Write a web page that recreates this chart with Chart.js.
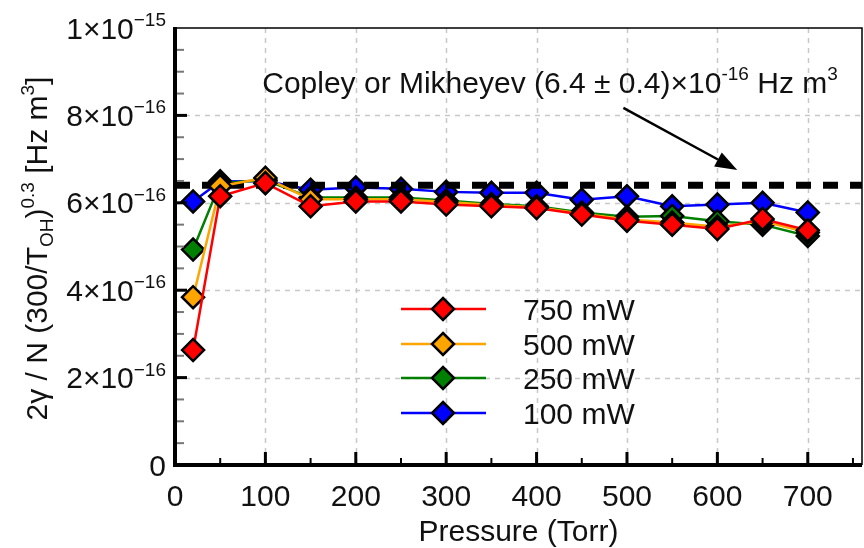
<!DOCTYPE html>
<html>
<head>
<meta charset="utf-8">
<script src="https://cdn.jsdelivr.net/npm/chart.js@4.4.0/dist/chart.umd.min.js"></script>
<style>
  html, body { margin: 0; padding: 0; background: #fff; }
  #wrap { width: 864px; height: 548px; position: relative; }
</style>
</head>
<body>
<div id="wrap"><canvas id="chart" width="864" height="548"></canvas></div>
<script>
// Pression en Torr
const pressures = [20, 50, 100, 150, 200, 250, 300, 350, 400, 450, 500, 550, 600, 650, 700];

// 2γ/N (300/T_OH)^0.3, en unités de 1e-16 Hz m^3
const series750 = [2.63, 6.15, 6.45, 5.92, 6.03, 6.03, 5.96, 5.92, 5.88, 5.73, 5.59, 5.50, 5.40, 5.63, 5.37];
const series500 = [3.84, 6.38, 6.57, 6.08, 6.08, 6.08, 6.02, 5.95, 5.90, 5.75, 5.62, 5.55, 5.45, 5.58, 5.32];
const series250 = [4.93, 6.45, 6.52, 6.12, 6.12, 6.12, 6.05, 5.97, 5.92, 5.78, 5.68, 5.70, 5.58, 5.50, 5.24];
const series100 = [6.03, 6.49, 6.50, 6.30, 6.35, 6.32, 6.25, 6.23, 6.23, 6.07, 6.15, 5.92, 5.96, 6.00, 5.78];

const seriesLabels = ['750 mW', '500 mW', '250 mW', '100 mW'];
const seriesColors = ['#ff0000', '#ffa500', '#008000', '#0000ff'];

// Valeur de la littérature (Copley / Mikheyev)
const literatureValue = 6.4;
const literatureRange = [0, 760];

const xRange = [0, 760];
const yRange = [0, 10];
const xTicks = [0, 100, 200, 300, 400, 500, 600, 700];
const xTickLabels = ['0', '100', '200', '300', '400', '500', '600', '700'];
const yTicks = [0, 2, 4, 6, 8, 10];
const yTickLabels = ['0', '2×10^{−16}', '4×10^{−16}', '6×10^{−16}', '8×10^{−16}', '1×10^{−15}'];

const xTitle = 'Pressure (Torr)';
const yTitle = '2γ / N (300/T_{OH})^{0.3} [Hz m^{3}]';
const noteText = 'Copley or Mikheyev (6.4 ± 0.4)×10^{-16} Hz m^{3}';
// flèche : départ et pointe en coordonnées de données
const arrowFrom = [496, 8.17];
const arrowTo = [622, 6.75];

const FONT = '"Liberation Sans", Arial, sans-serif';
const TXT = 30;

/**
 * Découpe une chaîne avec ^{...} et _{...} en morceaux
 */
function parseRich(str) {
  const parts = [];
  const re = /([\^_])\{([^}]*)\}/g;
  let last = 0, m;
  while ((m = re.exec(str))) {
    if (m.index > last) parts.push({ t: str.slice(last, m.index), k: 'n' });
    parts.push({ t: m[2], k: m[1] === '^' ? 'sup' : 'sub' });
    last = re.lastIndex;
  }
  if (last < str.length) parts.push({ t: str.slice(last), k: 'n' });
  return parts;
}

function partFont(k, size) {
  return (k === 'n' ? size : Math.round(size * 0.62)) + 'px ' + FONT;
}

function richWidth(ctx, parts, size) {
  let w = 0;
  parts.forEach(p => { ctx.font = partFont(p.k, size); w += ctx.measureText(p.t).width; });
  return w;
}

// y = ligne de base
function drawRich(ctx, str, x, y, size, align) {
  const parts = parseRich(str);
  const w = richWidth(ctx, parts, size);
  let cx = align === 'right' ? x - w : align === 'center' ? x - w / 2 : x;
  ctx.textBaseline = 'alphabetic';
  ctx.textAlign = 'left';
  parts.forEach(p => {
    ctx.font = partFont(p.k, size);
    let dy = 0;
    if (p.k === 'sup') dy = -size * 0.42;
    if (p.k === 'sub') dy = size * 0.2;
    ctx.fillText(p.t, cx, y + dy);
    cx += ctx.measureText(p.t).width;
  });
}

const decorations = {
  id: 'decorations',
  beforeDatasetsDraw(chart) {
    const { ctx, chartArea: a, scales: { x, y } } = chart;
    ctx.save();
    // grille pointillée
    ctx.strokeStyle = '#c8c8c8';
    ctx.lineWidth = 1.5;
    ctx.setLineDash([5, 5]);
    xTicks.forEach(v => {
      if (v === xRange[0]) return;
      const px = Math.round(x.getPixelForValue(v)) + 0.5;
      ctx.beginPath(); ctx.moveTo(px, a.top); ctx.lineTo(px, a.bottom); ctx.stroke();
    });
    yTicks.forEach(v => {
      if (v === yRange[0] || v === yRange[1]) return;
      const py = Math.round(y.getPixelForValue(v)) + 0.5;
      ctx.beginPath(); ctx.moveTo(a.left, py); ctx.lineTo(a.right, py); ctx.stroke();
    });
    ctx.restore();
  },
  afterDatasetsDraw(chart) {
    const { ctx, chartArea: a, scales: { x, y } } = chart;
    ctx.save();
    ctx.setLineDash([]);

    // cadre fin haut / droite
    ctx.strokeStyle = '#000';
    ctx.lineWidth = 1.5;
    ctx.beginPath();
    ctx.moveTo(a.left, a.top); ctx.lineTo(a.right, a.top); ctx.lineTo(a.right, a.bottom);
    ctx.stroke();

    // graduations x
    for (let v = 50; v < xRange[1]; v += 50) {
      const px = x.getPixelForValue(v);
      const major = v % 100 === 0;
      ctx.strokeStyle = '#000';
      ctx.lineWidth = major ? 3 : 2;
      ctx.beginPath(); ctx.moveTo(px, a.bottom); ctx.lineTo(px, a.bottom - (major ? 13 : 7)); ctx.stroke();
    }
    // graduations y
    for (let v = 0.5; v < yRange[1]; v += 0.5) {
      const py = y.getPixelForValue(v);
      const major = Math.abs(v % 2) < 1e-9;
      ctx.strokeStyle = major ? '#000' : '#777';
      ctx.lineWidth = major ? 3 : 2;
      ctx.beginPath(); ctx.moveTo(a.left, py); ctx.lineTo(a.left + (major ? 12 : 9), py); ctx.stroke();
    }

    // axes épais gauche / bas
    ctx.strokeStyle = '#000';
    ctx.lineWidth = 4;
    ctx.beginPath();
    ctx.moveTo(a.left, a.top - 1); ctx.lineTo(a.left, a.bottom); ctx.lineTo(a.right, a.bottom);
    ctx.stroke();

    ctx.fillStyle = '#111';
    // étiquettes x
    xTicks.forEach((v, i) => {
      drawRich(ctx, xTickLabels[i], x.getPixelForValue(v), 506, TXT, 'center');
    });
    // étiquettes y
    yTicks.forEach((v, i) => {
      drawRich(ctx, yTickLabels[i], 166, y.getPixelForValue(v) + 10.5, TXT, 'right');
    });

    // titres
    drawRich(ctx, xTitle, (a.left + a.right) / 2, 541, TXT, 'center');
    ctx.save();
    ctx.translate(47, (a.top + a.bottom) / 2 + 2);
    ctx.rotate(-Math.PI / 2);
    drawRich(ctx, yTitle, 0, 0, TXT, 'center');
    ctx.restore();

    // annotation
    drawRich(ctx, noteText, 550, 93, TXT, 'center');
    const x0 = x.getPixelForValue(arrowFrom[0]), y0 = y.getPixelForValue(arrowFrom[1]);
    const x1 = x.getPixelForValue(arrowTo[0]), y1 = y.getPixelForValue(arrowTo[1]);
    const ang = Math.atan2(y1 - y0, x1 - x0);
    const head = 22, hw = 8;
    ctx.strokeStyle = '#000';
    ctx.lineWidth = 2.5;
    ctx.beginPath(); ctx.moveTo(x0, y0);
    ctx.lineTo(x1 - Math.cos(ang) * head, y1 - Math.sin(ang) * head); ctx.stroke();
    ctx.fillStyle = '#000';
    ctx.beginPath();
    ctx.moveTo(x1, y1);
    ctx.lineTo(x1 - Math.cos(ang) * head - Math.sin(ang) * hw, y1 - Math.sin(ang) * head + Math.cos(ang) * hw);
    ctx.lineTo(x1 - Math.cos(ang) * head + Math.sin(ang) * hw, y1 - Math.sin(ang) * head - Math.cos(ang) * hw);
    ctx.closePath(); ctx.fill();

    // légende
    const rows = [309, 344, 378, 413];
    seriesLabels.forEach((label, i) => {
      const ry = rows[i];
      ctx.strokeStyle = seriesColors[i];
      ctx.lineWidth = 2.5;
      ctx.beginPath(); ctx.moveTo(401, ry); ctx.lineTo(486, ry); ctx.stroke();
      ctx.fillStyle = seriesColors[i];
      ctx.strokeStyle = '#000';
      ctx.lineWidth = 2.5;
      ctx.beginPath();
      ctx.moveTo(443, ry - 11); ctx.lineTo(454, ry); ctx.lineTo(443, ry + 11); ctx.lineTo(432, ry);
      ctx.closePath(); ctx.fill(); ctx.stroke();
      ctx.fillStyle = '#111';
      drawRich(ctx, label, 523, ry + 10.5, TXT, 'left');
    });
    ctx.restore();
  }
};

function makeSeries(values, i, order) {
  return {
    label: seriesLabels[i],
    data: pressures.map((p, k) => ({ x: p, y: values[k] })),
    borderColor: seriesColors[i],
    backgroundColor: seriesColors[i],
    borderWidth: 2.5,
    pointStyle: 'rectRot',
    pointRadius: 11,
    pointBorderColor: '#000',
    pointBorderWidth: 2.5,
    pointBackgroundColor: seriesColors[i],
    tension: 0,
    order: order
  };
}

new Chart(document.getElementById('chart'), {
  type: 'line',
  data: {
    datasets: [
      makeSeries(series750, 0, 0),
      makeSeries(series500, 1, 1),
      {
        label: 'Copley or Mikheyev',
        data: literatureRange.map(p => ({ x: p, y: literatureValue })),
        borderColor: '#000',
        borderWidth: 7,
        borderDash: [15, 12],
        pointRadius: 0,
        order: 2
      },
      makeSeries(series250, 2, 3),
      makeSeries(series100, 3, 4)
    ]
  },
  options: {
    responsive: false,
    animation: false,
    layout: { autoPadding: false, padding: { left: 175, right: 2, top: 28, bottom: 83 } },
    plugins: { legend: { display: false }, tooltip: { enabled: false } },
    scales: {
      x: {
        type: 'linear', min: xRange[0], max: xRange[1],
        ticks: { display: false }, grid: { display: false }, border: { display: false },
        afterFit(s) { s.height = 0; }
      },
      y: {
        min: yRange[0], max: yRange[1],
        ticks: { display: false }, grid: { display: false }, border: { display: false },
        afterFit(s) { s.width = 0; }
      }
    }
  },
  plugins: [decorations]
});
</script>
</body>
</html>
